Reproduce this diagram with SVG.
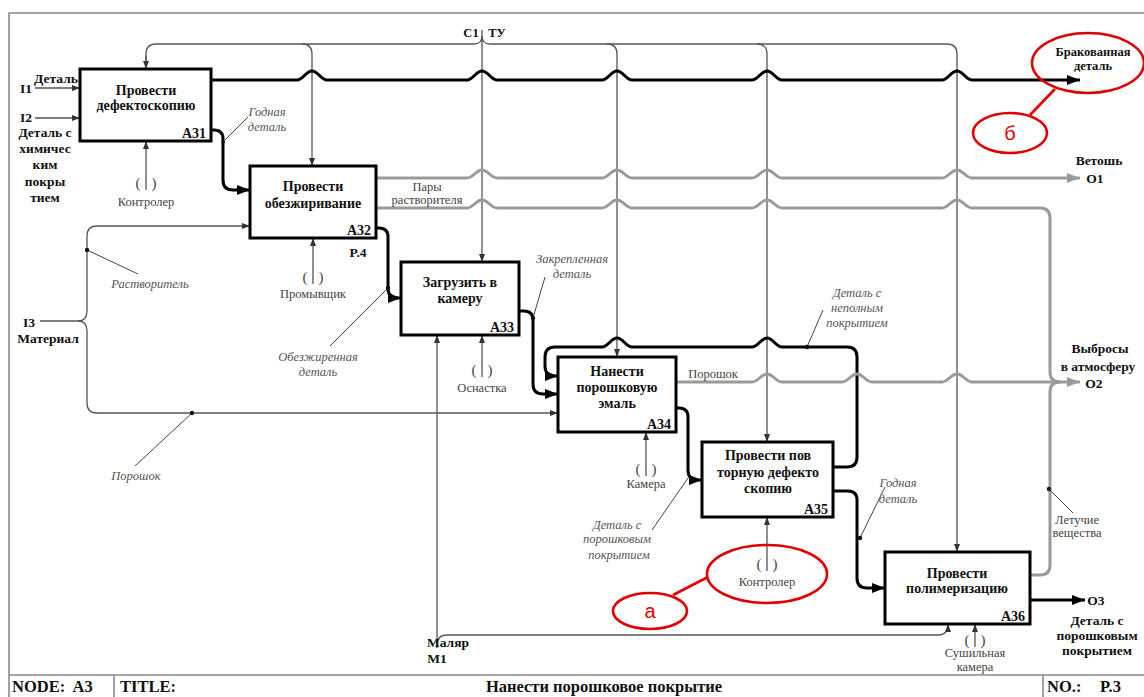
<svg xmlns="http://www.w3.org/2000/svg" width="1144" height="697" viewBox="0 0 1144 697">
<style>
.frame{fill:none;stroke:#8a8a8a;stroke-width:1.6}
.box{fill:#fff;stroke:#000;stroke-width:3}
.bt{font-family:"Liberation Serif",serif;font-weight:bold;font-size:14px;fill:#111;text-anchor:middle}
.num{font-family:"Liberation Serif",serif;font-weight:bold;font-size:14px;fill:#111;text-anchor:end}
.lbl{font-family:"Liberation Serif",serif;font-weight:bold;font-size:13.5px;fill:#111;text-anchor:middle}
.olbl{font-family:"Liberation Serif",serif;font-weight:bold;font-size:12.5px;fill:#111;text-anchor:middle}
.mech{font-family:"Liberation Serif",serif;font-size:12.5px;fill:#444;text-anchor:middle}
.par{font-family:"Liberation Serif",serif;font-size:15px;fill:#444;text-anchor:middle}
.it{font-family:"Liberation Serif",serif;font-style:italic;font-size:12.5px;fill:#555;text-anchor:middle}
.ctl{fill:none;stroke:#555;stroke-width:1.3}
.blk{fill:none;stroke:#000;stroke-width:3}
.gry{fill:none;stroke:#9a9a9a;stroke-width:3}
.ldr{fill:none;stroke:#444;stroke-width:1}
.dot{fill:#111}
.red{fill:none;stroke:#e00000;stroke-width:2.6}
.rt{font-family:"Liberation Sans",sans-serif;font-size:20px;fill:#e00000;text-anchor:middle}
.foot{font-family:"Liberation Serif",serif;font-weight:bold;font-size:16.5px;fill:#111}
</style>
<defs>
<marker id="aT" markerUnits="userSpaceOnUse" markerWidth="8" markerHeight="6" refX="8" refY="3" orient="auto"><path d="M0,0 L8,3 L0,6 z" fill="#333"/></marker>
<marker id="aB" markerUnits="userSpaceOnUse" markerWidth="13" markerHeight="10" refX="13" refY="5" orient="auto"><path d="M0,0 L13,5 L0,10 z" fill="#000"/></marker>
<marker id="aG" markerUnits="userSpaceOnUse" markerWidth="13" markerHeight="10" refX="13" refY="5" orient="auto"><path d="M0,0 L13,5 L0,10 z" fill="#9a9a9a"/></marker>
</defs>

<g id="frame">
<path class="frame" d="M9,697 V13 H1144"/>
<path class="frame" d="M9,675 H1144 M114,675 V697 M1043,675 V697"/>
<text class="foot" x="12" y="692" xml:space="preserve">NODE:  A3</text>
<text class="foot" x="120" y="692">TITLE:</text>
<text class="foot" x="604" y="692" text-anchor="middle" font-size="17.5">Нанести порошковое покрытие</text>
<text class="foot" x="1047" y="692">NO.:</text>
<text class="foot" x="1100" y="692">P.3</text>
</g>

<g id="connectors">
<path class="ctl" d="M482,30 V262" marker-end="url(#aT)"/>
<path class="ctl" d="M146,69 V54 Q146,44 156,44 H474 Q482,44 482,36"/>
<path class="ctl" d="M146,56 V69" marker-end="url(#aT)"/>
<path class="ctl" d="M482,36 Q482,44 490,44 H947 Q957,44 957,54 V552" marker-end="url(#aT)"/>
<path class="ctl" d="M302,44 Q312,44 312,54 V166" marker-end="url(#aT)"/>
<path class="ctl" d="M607,44 Q617,44 617,54 V357" marker-end="url(#aT)"/>
<path class="ctl" d="M757,44 Q767,44 767,54 V442" marker-end="url(#aT)"/>
<path class="ctl" d="M35,88 H80" marker-end="url(#aT)"/>
<path class="ctl" d="M35,118 H80" marker-end="url(#aT)"/>
<path class="ctl" d="M40,321 H78 Q87,321 87,311 V236 Q87,226 97,226 H250" marker-end="url(#aT)"/>
<path class="ctl" d="M78,321 Q87,321 87,331 V403 Q87,413 97,413 H558" marker-end="url(#aT)"/>
<path class="ctl" d="M146,190 V141" marker-end="url(#aT)"/>
<path class="ctl" d="M313,284 V238" marker-end="url(#aT)"/>
<path class="ctl" d="M482,377 V335" marker-end="url(#aT)"/>
<path class="ctl" d="M646,476 V432" marker-end="url(#aT)"/>
<path class="ctl" d="M767,571 V517" marker-end="url(#aT)"/>
<path class="ctl" d="M975,647 V624" marker-end="url(#aT)"/>
<path class="ctl" d="M437,648 V335" marker-end="url(#aT)"/>
<path class="ctl" d="M437,645 Q437,635 447,635 H938 Q948,635 948,624" marker-end="url(#aT)"/>
<path class="blk" d="M211,80 H297 C303,80 306,71 312,71 C318,71 321,80 327,80 H467 C473,80 476,71 482,71 C488,71 491,80 497,80 H602 C608,80 611,71 617,71 C623,71 626,80 632,80 H752 C758,80 761,71 767,71 C773,71 776,80 782,80 H942 C948,80 951,71 957,71 C963,71 966,80 972,80 H1080" marker-end="url(#aB)"/>
<path class="blk" d="M211,130 H214 Q223,130 223,139 V180 Q223,190 233,190 H250" marker-end="url(#aB)"/>
<path class="blk" d="M376,228 H379 Q388,228 388,237 V288 Q388,298 398,298 H401" marker-end="url(#aB)"/>
<path class="blk" d="M519,311 H524 Q533,311 533,320 V384 Q533,394 543,394 H558" marker-end="url(#aB)"/>
<path class="blk" d="M676,408 H679 Q688,408 688,417 V470 Q688,480 698,480 H702" marker-end="url(#aB)"/>
<path class="blk" d="M833,491 H848 Q857,491 857,500 V578 Q857,588 867,588 H885" marker-end="url(#aB)"/>
<path class="blk" d="M1030,600 H1085" marker-end="url(#aB)"/>
<path class="blk" d="M833,467 H847 Q857,467 857,457 V357 Q857,347 847,347 H782 C776,347 773,338 767,338 C761,338 758,347 752,347 H632 C626,347 623,338 617,338 C611,338 608,347 602,347 H555 Q545,347 545,357 V366 Q545,376 555,376 H558" marker-end="url(#aB)"/>
<path class="gry" d="M376,178 H467 C473,178 476,170 482,170 C488,170 491,178 497,178 H602 C608,178 611,170 617,170 C623,170 626,178 632,178 H752 C758,178 761,170 767,170 C773,170 776,178 782,178 H942 C948,178 951,170 957,170 C963,170 966,178 972,178 H1080" marker-end="url(#aG)"/>
<path class="gry" d="M376,208 H467 C473,208 476,200 482,200 C488,200 491,208 497,208 H602 C608,208 611,200 617,200 C623,200 626,208 632,208 H752 C758,208 761,200 767,200 C773,200 776,208 782,208 H942 C948,208 951,200 957,200 C963,200 966,208 972,208 H1040 Q1050,208 1050,218 V372 Q1050,382 1060,382"/>
<path class="gry" d="M676,382 H752 C758,382 761,374 767,374 C773,374 776,382 782,382 H842 C848,382 851,374 857,374 C863,374 866,382 872,382 H942 C948,382 951,374 957,374 C963,374 966,382 972,382 H1080" marker-end="url(#aG)"/>
<path class="gry" d="M1030,575 H1040 Q1050,575 1050,565 V392 Q1050,382 1060,382"/>
<path class="ldr" d="M223,142 L248,117"/>
<path class="ldr" d="M87,250 L138,274"/>
<path class="ldr" d="M192,413 L135,466"/>
<path class="ldr" d="M388,288 L330,346"/>
<path class="ldr" d="M533,318 L545,277"/>
<path class="ldr" d="M807,347 L823,310"/>
<path class="ldr" d="M688,478 L652,530"/>
<path class="ldr" d="M860,538 L885,487"/>
<path class="ldr" d="M1049,489 L1073,513"/>
<circle class="dot" cx="223" cy="142" r="1.8"/>
<circle class="dot" cx="87" cy="250" r="2.2"/>
<circle class="dot" cx="192" cy="413" r="2.2"/>
<circle class="dot" cx="388" cy="288" r="2.2"/>
<circle class="dot" cx="533" cy="318" r="2.2"/>
<circle class="dot" cx="807" cy="347" r="2.2"/>
<circle class="dot" cx="860" cy="538" r="2.2"/>
<circle class="dot" cx="1049" cy="489" r="2.2"/>
</g>

<g id="A31">
<rect class="box" x="80" y="69" width="131" height="72"/>
<text class="bt" x="146" y="95">Провести</text>
<text class="bt" x="146" y="110">дефектоскопию</text>
<text class="num" x="206" y="138">A31</text>
</g>
<g id="A32">
<rect class="box" x="250" y="166" width="126" height="72"/>
<text class="bt" x="313" y="191">Провести</text>
<text class="bt" x="313" y="208">обезжиривание</text>
<text class="num" x="371" y="235">A32</text>
</g>
<g id="A33">
<rect class="box" x="401" y="262" width="118" height="73"/>
<text class="bt" x="460" y="287">Загрузить в</text>
<text class="bt" x="460" y="303">камеру</text>
<text class="num" x="514" y="332">A33</text>
</g>
<g id="A34">
<rect class="box" x="558" y="357" width="118" height="75"/>
<text class="bt" x="617" y="376">Нанести</text>
<text class="bt" x="617" y="392">порошковую</text>
<text class="bt" x="617" y="408">эмаль</text>
<text class="num" x="671" y="429">A34</text>
</g>
<g id="A35">
<rect class="box" x="702" y="442" width="131" height="75"/>
<text class="bt" x="768" y="460">Провести пов</text>
<text class="bt" x="768" y="477">торную дефекто</text>
<text class="bt" x="768" y="493">скопию</text>
<text class="num" x="828" y="514">A35</text>
</g>
<g id="A36">
<rect class="box" x="885" y="552" width="145" height="72"/>
<text class="bt" x="957" y="578">Провести</text>
<text class="bt" x="957" y="593">полимеризацию</text>
<text class="num" x="1025" y="621">A36</text>
</g>

<g id="labels">
<text class="olbl" x="471" y="37">C1</text>
<text class="olbl" x="497" y="37">ТУ</text>
<text class="lbl" x="26" y="93">I1</text>
<text class="lbl" x="56" y="83">Деталь</text>
<text class="lbl" x="26" y="122">I2</text>
<text class="lbl" x="45" y="137">Деталь с</text>
<text class="lbl" x="45" y="153">химичес</text>
<text class="lbl" x="45" y="169">ким</text>
<text class="lbl" x="45" y="186">покры</text>
<text class="lbl" x="45" y="202">тием</text>
<text class="lbl" x="29" y="327">I3</text>
<text class="lbl" x="48" y="343">Материал</text>
<text class="lbl" x="358" y="257">P.4</text>
<text class="lbl" x="448" y="647" text-anchor="start">Маляр</text>
<text class="lbl" x="437" y="663">M1</text>
<text class="olbl" x="1093" y="56">Бракованная</text>
<text class="olbl" x="1093" y="70">деталь</text>
<text class="lbl" x="1099" y="165">Ветошь</text>
<text class="lbl" x="1095" y="183">O1</text>
<text class="lbl" x="1100" y="353">Выбросы</text>
<text class="lbl" x="1098" y="371">в атмосферу</text>
<text class="lbl" x="1094" y="388">O2</text>
<text class="lbl" x="1096" y="605">O3</text>
<text class="lbl" x="1097" y="625">Деталь с</text>
<text class="lbl" x="1097" y="640">порошковым</text>
<text class="lbl" x="1097" y="655">покрытием</text>
<text class="par" x="146" y="188" xml:space="preserve">(   )</text>
<text class="mech" x="146" y="206">Контролер</text>
<text class="par" x="313" y="282" xml:space="preserve">(   )</text>
<text class="mech" x="313" y="298">Промывщик</text>
<text class="par" x="482" y="375" xml:space="preserve">(   )</text>
<text class="mech" x="482" y="392">Оснастка</text>
<text class="par" x="646" y="474" xml:space="preserve">(   )</text>
<text class="mech" x="646" y="488">Камера</text>
<text class="par" x="767" y="569" xml:space="preserve">(   )</text>
<text class="mech" x="767" y="586">Контролер</text>
<text class="par" x="975" y="645" xml:space="preserve">(   )</text>
<text class="mech" x="975" y="657">Сушильная</text>
<text class="mech" x="975" y="671">камера</text>
<text class="mech" x="427" y="191">Пары</text>
<text class="mech" x="427" y="204">растворителя</text>
<text class="mech" x="713" y="378">Порошок</text>
<text class="mech" x="1077" y="524">Летучие</text>
<text class="mech" x="1077" y="537">вещества</text>
<text class="it" x="267" y="116">Годная</text>
<text class="it" x="267" y="131">деталь</text>
<text class="it" x="150" y="288">Растворитель</text>
<text class="it" x="136" y="480">Порошок</text>
<text class="it" x="318" y="361">Обезжиренная</text>
<text class="it" x="318" y="376">деталь</text>
<text class="it" x="572" y="263">Закрепленная</text>
<text class="it" x="572" y="278">деталь</text>
<text class="it" x="857" y="297">Деталь с</text>
<text class="it" x="857" y="312">неполным</text>
<text class="it" x="857" y="327">покрытием</text>
<text class="it" x="617" y="529">Деталь с</text>
<text class="it" x="617" y="543">порошковым</text>
<text class="it" x="619" y="559">покрытием</text>
<text class="it" x="898" y="487">Годная</text>
<text class="it" x="898" y="503">деталь</text>
</g>

<g id="annotations">
<ellipse class="red" cx="1088" cy="63" rx="56" ry="30"/>
<ellipse class="red" cx="1010" cy="133" rx="37" ry="20"/>
<path class="red" d="M1030,115 L1055,89"/>
<text class="rt" x="1010" y="140">б</text>
<ellipse class="red" cx="767" cy="574" rx="60" ry="29"/>
<ellipse class="red" cx="650" cy="611" rx="37" ry="18"/>
<path class="red" d="M673,595 L708,577"/>
<text class="rt" x="650" y="618">а</text>
</g>
</svg>
